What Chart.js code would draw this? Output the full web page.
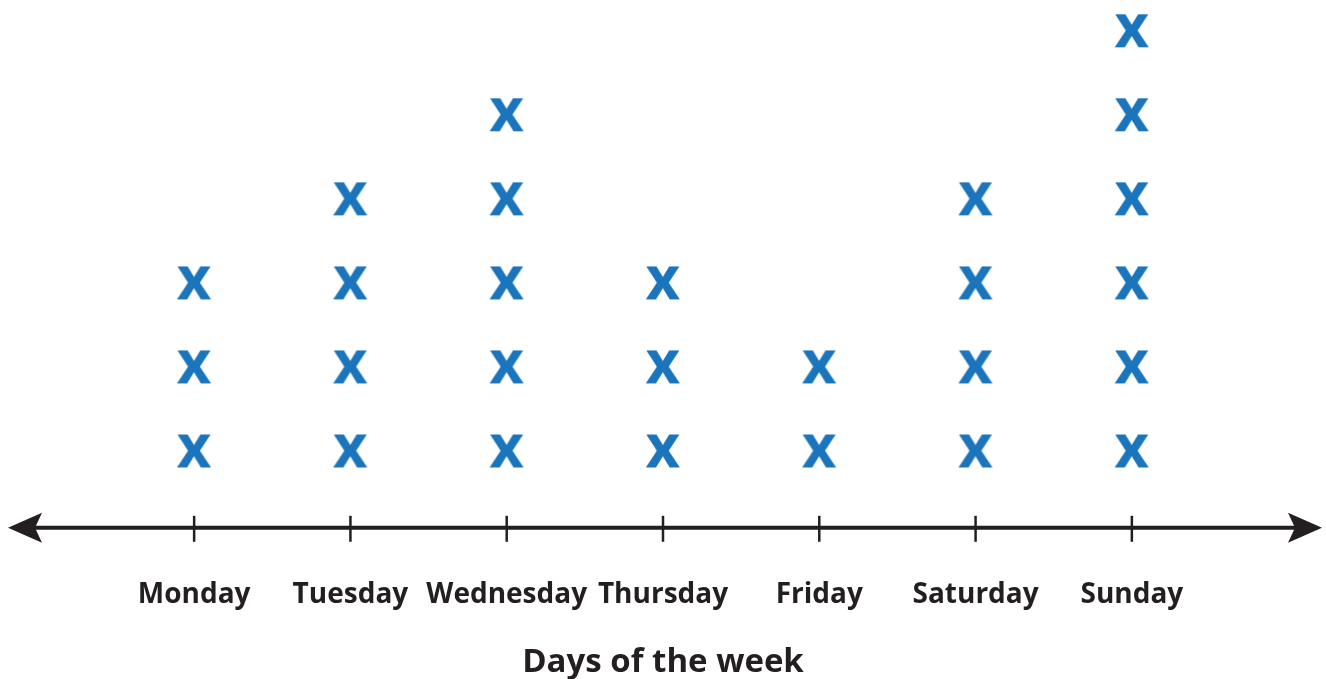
<!DOCTYPE html>
<html>
<head>
<meta charset="utf-8">
<script src="https://cdn.jsdelivr.net/npm/chart.js@4.4.0/dist/chart.umd.min.js"></script>
<style>
  body { margin: 0; background: #fff; }
  canvas { display: block; }
</style>
</head>
<body>
<canvas id="dotPlot" width="1326" height="679"></canvas>
<script>
const days = ['Monday', 'Tuesday', 'Wednesday', 'Thursday', 'Friday', 'Saturday', 'Sunday'];
const counts = [3, 4, 5, 3, 2, 4, 6];
const axisTitle = 'Days of the week';

const markBlue = '#1b75bc';
const inkColor = '#231f20';

// one point per x mark, stacked 1..count above each day
const points = [];
days.forEach((d, i) => {
  for (let k = 1; k <= counts[i]; k++) points.push({ x: d, y: k });
});

// the "x" glyph used as the marker
const mark = document.createElement('canvas');
mark.width = 46;
mark.height = 40;
const mctx = mark.getContext('2d');
mctx.font = 'bold 60px "Open Sans"';
mctx.fillStyle = markBlue;
const m = mctx.measureText('x');
const gw = m.actualBoundingBoxLeft + m.actualBoundingBoxRight;
const gh = m.actualBoundingBoxAscent + m.actualBoundingBoxDescent;
mctx.fillText('x',
  (mark.width - gw) / 2 + m.actualBoundingBoxLeft,
  (mark.height - gh) / 2 + m.actualBoundingBoxAscent);

const numberLine = {
  id: 'numberLine',
  afterDraw(chart) {
    const ctx = chart.ctx;
    const xs = chart.scales.x;
    const y = chart.chartArea.bottom;
    const left = 8, right = 1322;
    ctx.save();
    ctx.strokeStyle = inkColor;
    ctx.fillStyle = inkColor;
    ctx.lineWidth = 4;
    ctx.beginPath();
    ctx.moveTo(left + 20, y);
    ctx.lineTo(right - 20, y);
    ctx.stroke();
    // arrow heads
    ctx.beginPath();
    ctx.moveTo(left, y);
    ctx.lineTo(left + 34, y - 15);
    ctx.lineTo(left + 27, y);
    ctx.lineTo(left + 34, y + 15);
    ctx.closePath();
    ctx.fill();
    ctx.beginPath();
    ctx.moveTo(right, y);
    ctx.lineTo(right - 34, y - 15);
    ctx.lineTo(right - 27, y);
    ctx.lineTo(right - 34, y + 15);
    ctx.closePath();
    ctx.fill();
    // tick marks
    ctx.lineWidth = 2.5;
    days.forEach((d, i) => {
      const px = xs.getPixelForValue(i);
      ctx.beginPath();
      ctx.moveTo(px, y - 12);
      ctx.lineTo(px, y + 14);
      ctx.stroke();
    });
    ctx.restore();
  }
};

new Chart(document.getElementById('dotPlot'), {
  type: 'line',
  data: {
    labels: days,
    datasets: [{
      data: points,
      showLine: false,
      pointStyle: mark,
      pointRadius: 20,
      pointHoverRadius: 20,
      clip: false
    }]
  },
  options: {
    responsive: false,
    animation: false,
    events: [],
    layout: { autoPadding: false, padding: { left: 116, right: 116, top: 0, bottom: -3 } },
    plugins: { legend: { display: false }, tooltip: { enabled: false } },
    scales: {
      y: { display: false, min: 0.08, max: 6.36 },
      x: {
        offset: true,
        grid: { display: false, drawTicks: false },
        border: { display: false },
        ticks: {
          padding: 50,
          color: inkColor,
          font: { family: '"Open Sans"', size: 28, weight: 'bold' },
          maxRotation: 0,
          autoSkip: false
        },
        title: {
          display: true,
          text: axisTitle,
          color: inkColor,
          font: { family: '"Open Sans"', size: 33, weight: 'bold' },
          padding: { top: -19, bottom: 0 }
        }
      }
    }
  },
  plugins: [numberLine]
});
</script>
</body>
</html>
